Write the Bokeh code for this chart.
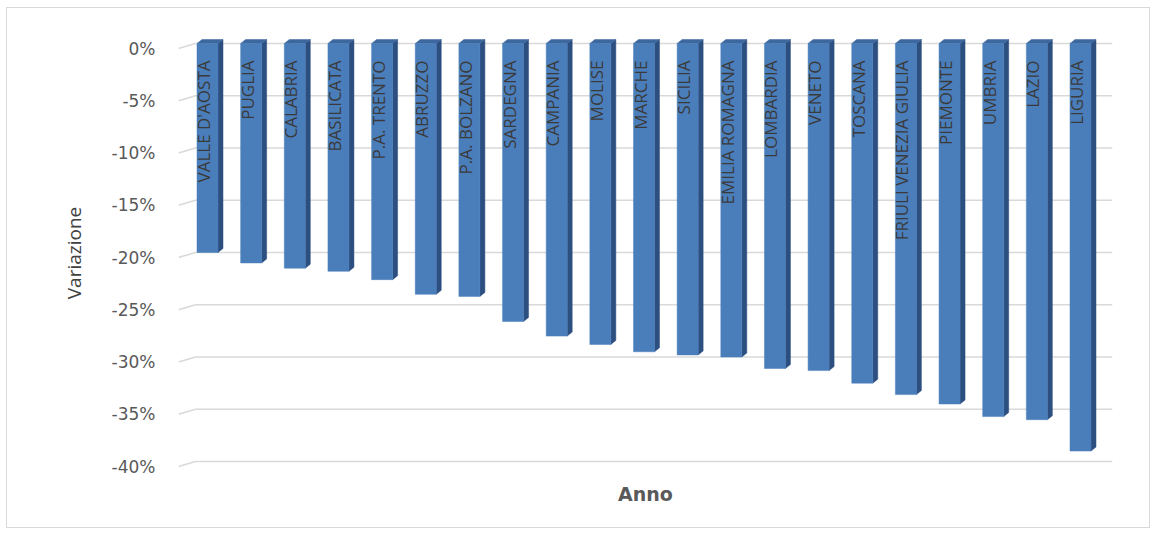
import math

from bokeh.core.properties import value
from bokeh.embed import file_html
from bokeh.models import ColumnDataSource, FixedTicker, LinearAxis, Range1d
from bokeh.plotting import figure
from bokeh.resources import INLINE

# ---- data -------------------------------------------------------------
regions = [
    "VALLE D'AOSTA", "PUGLIA", "CALABRIA", "BASILICATA", "P.A. TRENTO",
    "ABRUZZO", "P.A. BOLZANO", "SARDEGNA", "CAMPANIA", "MOLISE", "MARCHE",
    "SICILIA", "EMILIA ROMAGNA", "LOMBARDIA", "VENETO", "TOSCANA",
    "FRIULI VENEZIA GIULIA", "PIEMONTE", "UMBRIA", "LAZIO", "LIGURIA",
]
variazione = [
    -20.0, -21.0, -21.5, -21.8, -22.6, -24.0, -24.2, -26.6, -28.0, -28.8,
    -29.5, -29.8, -30.0, -31.1, -31.3, -32.5, -33.6, -34.5, -35.7, -36.0,
    -39.0,
]
tick_values = [0, -5, -10, -15, -20, -25, -30, -35, -40]
tick_labels = ["0%", "-5%", "-10%", "-15%", "-20%", "-25%", "-30%", "-35%", "-40%"]

# ---- geometry of the pseudo-3D frame ------------------------------------
FRAME_W, FRAME_H = 934, 445
PX_X = 43.65            # pixels per category slot
PX_Y = 10.45            # pixels per percentage point
x_start = -29 / PX_X
x_end = x_start + FRAME_W / PX_X
y_end = 13 / PX_Y
y_start = y_end - FRAME_H / PX_Y
front_shift = 5 / PX_Y  # front edge of the floor sits a little lower

half_w = 10.5 / PX_X    # half width of a bar's front face
dx = 5 / PX_X           # depth of the bars (to the right)
dy = 4 / PX_Y           # depth of the bars (upwards)

p = figure(
    width=1144, height=521,
    x_range=Range1d(x_start, x_end),
    y_range=Range1d(y_start, y_end),
    output_backend="svg", toolbar_location=None,
    y_axis_location=None,
    min_border_left=171, min_border_right=39,
    min_border_top=22, min_border_bottom=54,
)
p.styles = {"margin-left": "6px", "margin-top": "7px", "border": "1px solid #d9d9d9"}
p.outline_line_color = None
p.background_fill_color = "white"
p.border_fill_color = "white"
p.xgrid.visible = False
p.ygrid.visible = False

# the value axis is drawn on the front plane of the chart floor
p.extra_y_ranges = {"front": Range1d(y_start + front_shift, y_end + front_shift)}
yaxis = LinearAxis(y_range_name="front")
yaxis.ticker = FixedTicker(ticks=tick_values)
yaxis.major_label_overrides = {v: s for v, s in zip(tick_values, tick_labels)}
yaxis.axis_line_color = None
yaxis.major_tick_line_color = None
yaxis.minor_tick_line_color = None
yaxis.major_label_standoff = 17
yaxis.major_label_text_font = "DejaVu Sans"
yaxis.major_label_text_font_size = "17px"
yaxis.major_label_text_color = "#595959"
yaxis.axis_label = "Variazione"
yaxis.axis_label_standoff = 22
yaxis.axis_label_text_font = "Open Sans"
yaxis.axis_label_text_font_size = "19px"
yaxis.axis_label_text_font_style = "normal"
yaxis.axis_label_text_color = "#404040"
p.add_layout(yaxis, "left")

xaxis = p.xaxis[0]
xaxis.ticker = FixedTicker(ticks=[])
xaxis.axis_line_color = None
xaxis.major_tick_line_color = None
xaxis.minor_tick_line_color = None
xaxis.major_label_standoff = 0
xaxis.axis_label = "Anno"
xaxis.axis_label_standoff = 7
xaxis.axis_label_text_font = "DejaVu Sans"
xaxis.axis_label_text_font_size = "19px"
xaxis.axis_label_text_font_style = "bold"
xaxis.axis_label_text_color = "#595959"

# gridlines on the back wall, bending down along the left side wall
grid_x = -12 / PX_X
p.multi_line(
    xs=[[x_start, grid_x, x_end] for _ in tick_values],
    ys=[[v - front_shift, v, v] for v in tick_values],
    line_color="#d9d9d9", line_width=1.6,
)

# bars: right side face, top face, front face
idx = list(range(len(regions)))
lefts = [i - half_w for i in idx]
rights = [i + half_w for i in idx]

side = ColumnDataSource(dict(
    xs=[[r, r + dx, r + dx, r] for r in rights],
    ys=[[0, dy, v + dy, v] for v in variazione],
))
p.patches("xs", "ys", source=side, fill_color="#2c4f80", line_color="#2c4f80", line_width=0.5)

top = ColumnDataSource(dict(
    xs=[[l, r, r + dx, l + dx] for l, r in zip(lefts, rights)],
    ys=[[0, 0, dy, dy] for _ in idx],
))
p.patches("xs", "ys", source=top, fill_color="#3c679f", line_color="#3c679f", line_width=0.5)

front = ColumnDataSource(dict(x=idx, top=[0] * len(idx), bottom=variazione, name=regions))
p.vbar(x="x", top="top", bottom="bottom", width=2 * half_w, source=front,
       fill_color="#4a7ebb", line_color="#4a7ebb", line_width=0.5)

# region names written along each bar
p.text(x="x", y="top", text="name", source=front,
       angle=math.pi / 2, text_align="right", text_baseline="middle",
       x_offset=-4, y_offset=17,
       text_font=value("Open Sans"), text_font_size="17px", text_color="#3a3a3a")

open("out.html", "w").write(file_html(p, INLINE))
